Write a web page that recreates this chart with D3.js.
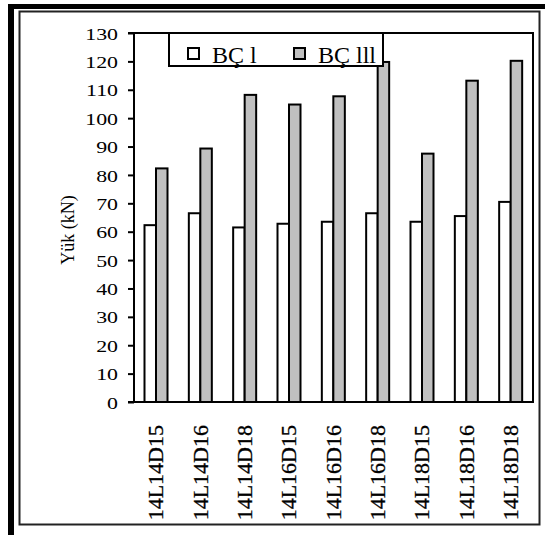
<!DOCTYPE html>
<html><head><meta charset="utf-8">
<script src="https://cdn.jsdelivr.net/npm/d3@7"></script>
<style>html,body{margin:0;padding:0;background:#fff}svg{display:block}</style>
</head><body>
<svg id="c" width="545" height="535"></svg>
<script>
const categories = ["14L14D15","14L14D16","14L14D18","14L16D15","14L16D16","14L16D18","14L18D15","14L18D16","14L18D18"];
const seriesNames = ["BÇ l","BÇ lll"];
const bc1 = [62.3, 66.5, 61.5, 62.8, 63.5, 66.5, 63.5, 65.5, 70.5];
const bc3 = [82.3, 89.3, 108.2, 104.8, 107.7, 119.8, 87.5, 113.2, 120.2];
const yTicks = [0,10,20,30,40,50,60,70,80,90,100,110,120,130];
const colors = ["#ffffff", "#c0c0c0"];

const svg = d3.select("#c");
const FONT = "'Liberation Serif','Times New Roman',serif";

// outer frame
svg.append("rect").attr("x",8).attr("y",4).attr("width",537).attr("height",5).attr("fill","#000");
svg.append("rect").attr("x",8).attr("y",4).attr("width",6).attr("height",531).attr("fill","#000");
// inner thin border
svg.append("rect").attr("x",19.5).attr("y",11.5).attr("width",520).attr("height",513)
  .attr("fill","none").attr("stroke","#222").attr("stroke-width",2);

const L=134, R=533, T=33, B=402;
const x = d3.scaleBand().domain(categories).range([L,R]).paddingInner(0).paddingOuter(0);
const xs = d3.scaleBand().domain(seriesNames).range([10.5, 33.5]).padding(0);
const y = d3.scaleLinear().domain([0,130]).range([B,T]);

const data = categories.map((c,i)=>({cat:c, vals:[bc1[i], bc3[i]]}));

const g = svg.append("g");
g.selectAll("g.grp").data(data).join("g").attr("class","grp")
  .attr("transform", d=>`translate(${x(d.cat)},0)`)
  .selectAll("rect").data(d=>d.vals.map((v,k)=>({k,v}))).join("rect")
  .attr("x", d=>xs(seriesNames[d.k]))
  .attr("width", xs.bandwidth())
  .attr("y", d=>y(d.v))
  .attr("height", d=>B-y(d.v))
  .attr("fill", d=>colors[d.k])
  .attr("stroke","#000").attr("stroke-width",2);

// plot frame (top and right)
svg.append("path").attr("d",`M${L},${T}H${R}V${B}`).attr("fill","none").attr("stroke","#000").attr("stroke-width",2);
// x baseline
svg.append("line").attr("x1",L-6).attr("x2",R+1).attr("y1",B).attr("y2",B).attr("stroke","#000").attr("stroke-width",2);

// y axis
const ya = svg.append("g").attr("transform",`translate(${L},0)`)
  .call(d3.axisLeft(y).tickValues(yTicks).tickSize(6).tickPadding(10).tickFormat(d3.format("d")));
ya.select(".domain").attr("stroke","#000").attr("stroke-width",2).attr("d",`M-6,${T}H0V${B}H-6`);
ya.selectAll(".tick line").attr("stroke","#000").attr("stroke-width",2);
ya.selectAll(".tick text").attr("font-family",FONT).attr("font-size",17.5).attr("fill","#000")
  .attr("x",-16/1.25).attr("transform","scale(1.25,1)").attr("dy","0.35em");

// y title
svg.append("text").attr("transform","translate(74,230) rotate(-90)")
  .attr("text-anchor","middle").attr("font-family",FONT).attr("font-size",18).attr("fill","#000")
  .text("Yük (kN)");

// x labels
svg.append("g").selectAll("text").data(categories).join("text")
  .attr("transform", d=>`translate(${x(d)+x.bandwidth()/2+7},425) rotate(-90)`)
  .attr("text-anchor","end").attr("font-family",FONT).attr("font-size",22).attr("fill","#000")
  .attr("stroke","#000").attr("stroke-width",0.3)
  .text(d=>d);

// legend
const lg = svg.append("g");
lg.append("rect").attr("x",169).attr("y",T).attr("width",214).attr("height",33)
  .attr("fill","#fff").attr("stroke","#000").attr("stroke-width",2);
const legX = [188, 294];
seriesNames.forEach((s,i)=>{
  lg.append("rect").attr("x",legX[i]).attr("y",48).attr("width",11).attr("height",11)
    .attr("fill",colors[i]).attr("stroke","#000").attr("stroke-width",2);
  lg.append("text").attr("x",legX[i]+24).attr("y",63).attr("font-family",FONT).attr("font-size",24)
    .attr("fill","#000").text(s);
});
</script>
</body></html>
